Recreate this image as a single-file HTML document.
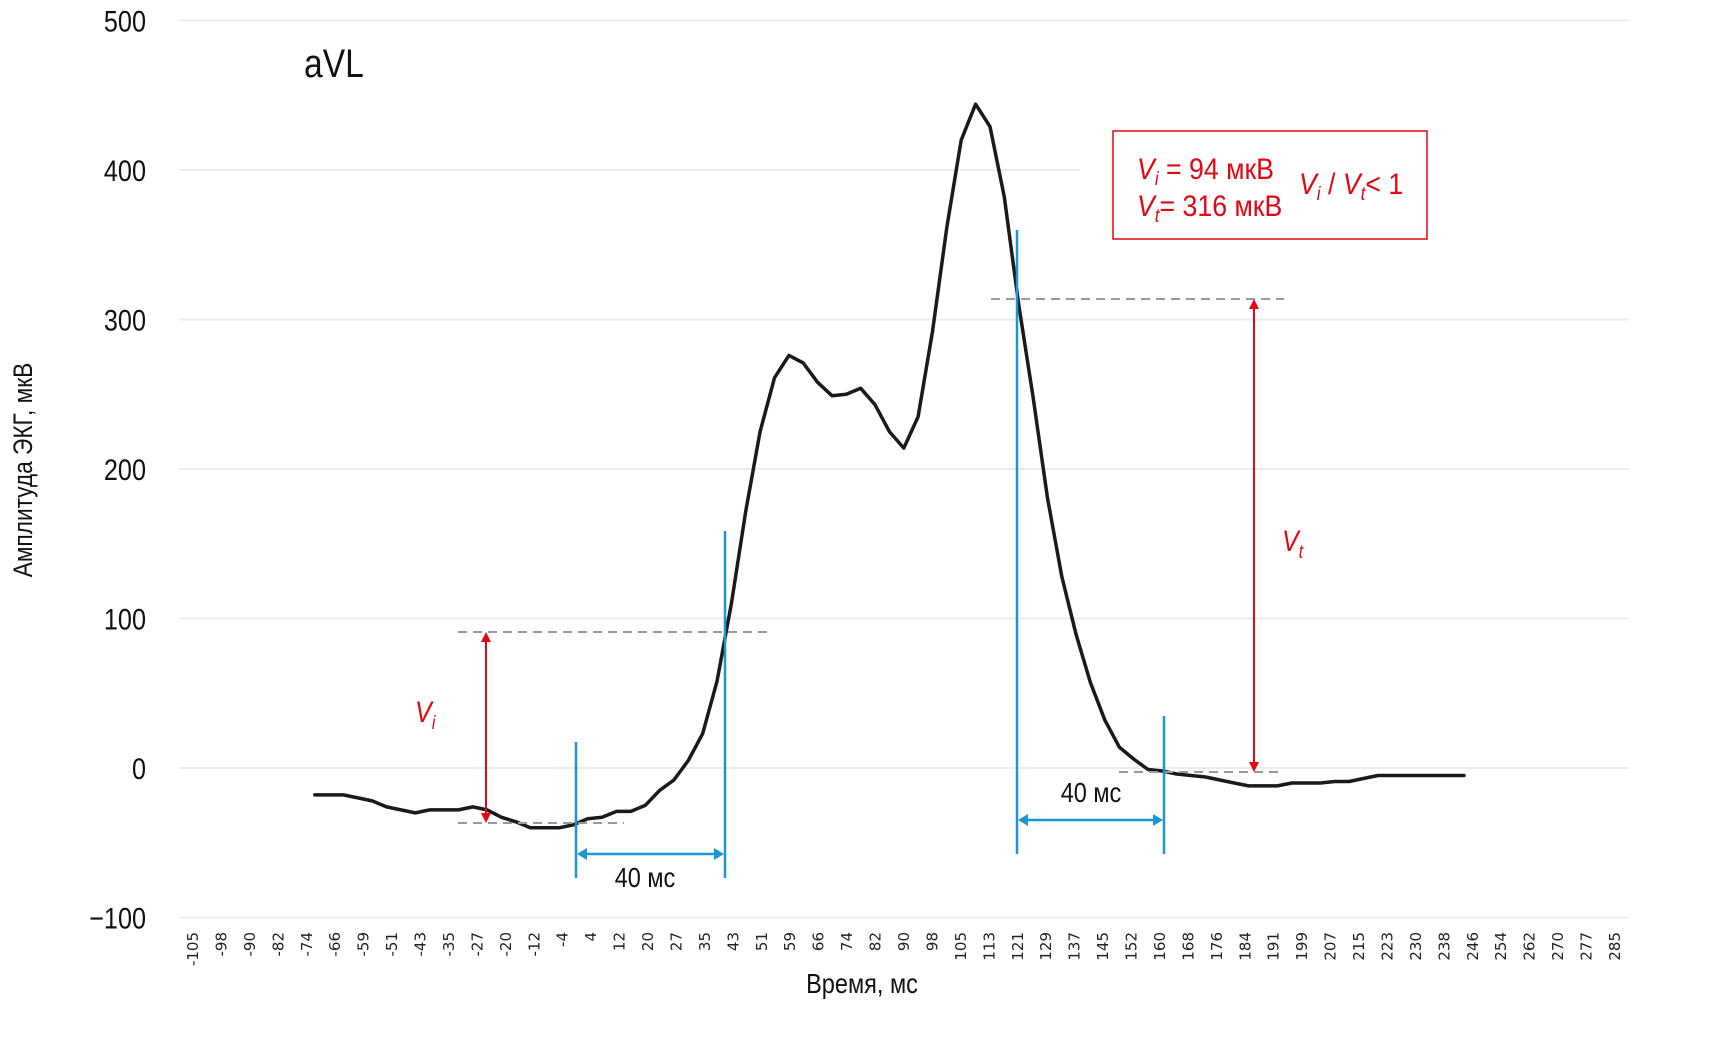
<!DOCTYPE html>
<html><head><meta charset="utf-8"><style>
html,body{margin:0;padding:0;background:#fff;}
svg{display:block;}
.cond{font-family:"Liberation Sans Narrow","Liberation Sans",sans-serif;}
</style></head><body>
<svg id="chart" width="1732" height="1041" viewBox="0 0 1732 1041" xmlns="http://www.w3.org/2000/svg">
<g id="grid"></g>
<g id="yticks"></g>
<g id="xticks"></g>
<text class="cond" x="304" y="77" font-size="40" fill="#111">aVL</text>
<text class="cond" font-size="27" fill="#111" text-anchor="middle" transform="translate(32,470) rotate(-90)">Амплитуда ЭКГ, мкВ</text>
<text class="cond" x="862" y="993" font-size="28" fill="#111" text-anchor="middle">Время, мс</text>
<g id="annot">
<line x1="458" y1="632" x2="771" y2="632" stroke="#999" stroke-width="2" stroke-dasharray="9,6"/>
<line x1="458" y1="823" x2="624" y2="823" stroke="#999" stroke-width="2" stroke-dasharray="9,6"/>
<line x1="991" y1="299" x2="1284" y2="299" stroke="#999" stroke-width="2" stroke-dasharray="9,6"/>
<line x1="1119" y1="772" x2="1279" y2="772" stroke="#999" stroke-width="2" stroke-dasharray="9,6"/>
<line x1="576" y1="742" x2="576" y2="878" stroke="#1a96d4" stroke-width="2.5"/>
<line x1="725" y1="531" x2="725" y2="878" stroke="#1a96d4" stroke-width="2.5"/>
<line x1="1017" y1="230" x2="1017" y2="854" stroke="#1a96d4" stroke-width="2.5"/>
<line x1="1164" y1="716" x2="1164" y2="854" stroke="#1a96d4" stroke-width="2.5"/>
<g stroke="#1a96d4" fill="#1a96d4" stroke-width="2.5">
<line x1="585" y1="854" x2="716" y2="854"/><path d="M577,854 l10,-6 v12z M724,854 l-10,-6 v12z" stroke="none"/></g>
<g stroke="#1a96d4" fill="#1a96d4" stroke-width="2.5">
<line x1="1026" y1="820" x2="1155" y2="820"/><path d="M1018,820 l10,-6 v12z M1163,820 l-10,-6 v12z" stroke="none"/></g>
<text class="cond" x="645" y="887" font-size="28" fill="#111" text-anchor="middle">40 мс</text>
<text class="cond" x="1091" y="802" font-size="28" fill="#111" text-anchor="middle">40 мс</text>
<g stroke="#e30613" fill="#e30613" stroke-width="2">
<line x1="486" y1="640" x2="486" y2="815"/><path d="M486,632 l-5,10 h10z M486,823 l-5,-10 h10z" stroke="none"/></g>
<g stroke="#e30613" fill="#e30613" stroke-width="2">
<line x1="1254" y1="307" x2="1254" y2="764"/><path d="M1254,299 l-5,10 h10z M1254,772 l-5,-10 h10z" stroke="none"/></g>
<text class="cond" x="415" y="722" font-size="30" fill="#e30613" font-style="italic">V<tspan font-size="19" dy="7">i</tspan></text>
<text class="cond" x="1282" y="551" font-size="30" fill="#e30613" font-style="italic">V<tspan font-size="19" dy="7">t</tspan></text>
<rect x="1113" y="131" width="314" height="108" fill="#fff" stroke="#e30613" stroke-width="1.5"/>
<text class="cond red" x="1137" y="179" font-size="30" fill="#e30613"><tspan font-style="italic">V</tspan><tspan font-style="italic" font-size="19" dy="6">i</tspan><tspan dy="-6"> = 94 мкВ</tspan></text>
<text class="cond red" x="1137" y="216" font-size="30" fill="#e30613"><tspan font-style="italic">V</tspan><tspan font-style="italic" font-size="19" dy="6">t</tspan><tspan dy="-6">= 316 мкВ</tspan></text>
<text class="cond red" x="1299" y="194" font-size="30" fill="#e30613"><tspan font-style="italic">V</tspan><tspan font-style="italic" font-size="19" dy="6">i</tspan><tspan dy="-6"> / </tspan><tspan font-style="italic">V</tspan><tspan font-style="italic" font-size="19" dy="6">t</tspan><tspan dy="-6">&lt; 1</tspan></text>
</g>
<g id="series"></g>
</svg>
<script>
const yTicks = [-100, 0, 100, 200, 300, 400, 500];
const xTickLabels = [-105,-98,-90,-82,-74,-66,-59,-51,-43,-35,-27,-20,-12,-4,4,12,20,27,35,43,51,59,66,74,82,90,98,105,113,121,129,137,145,152,160,168,176,184,191,199,207,215,223,230,238,246,254,262,270,277,285];
const sampleStart = -71.6;
const sampleStep = 3.94;
const ecgValues = [-18,-18,-18,-20,-22,-26,-28,-30,-28,-28,-28,-26,-28,-33,-36,-40,-40,-40,-38,-34,-33,-29,-29,-25,-15,-8,5,23,58,110,172,225,261,276,271,258,249,250,254,243,225,214,235,292,362,420,444,429,382,310,248,181,128,89,57,32,14,6,-1,-2,-4,-5,-6,-8,-10,-12,-12,-12,-10,-10,-10,-9,-9,-7,-5,-5,-5,-5,-5,-5,-5];

const NS = "http://www.w3.org/2000/svg";
const plotL = 179, plotR = 1629;
const tMin = -105, tMax = 285, xA = 193, xB = 1615;
function xScale(t){ return xA + (t - tMin) / (tMax - tMin) * (xB - xA); }
function yScale(v){ return 768 - v * 1.495; }
function mk(tag, attrs, parent){ const e = document.createElementNS(NS, tag); for (const k in attrs) e.setAttribute(k, attrs[k]); parent.appendChild(e); return e; }

const grid = document.getElementById('grid');
const yt = document.getElementById('yticks');
yTicks.forEach(v => {
  const l = mk('line', {x1: plotL, x2: v === 400 ? 1080 : plotR, y1: yScale(v), y2: yScale(v), stroke: '#ececec', 'stroke-width': 2}, grid);
  
  
  const t = mk('text', {x: 146, y: yScale(v) + 11, 'font-size': 30, 'text-anchor': 'end', fill: '#111', class: 'cond'}, yt);
  t.textContent = v < 0 ? '\u2212' + Math.abs(v) : String(v);
  
  
});

const xt = document.getElementById('xticks');
xTickLabels.forEach((lab, i) => {
  const cx = xA + i * (xB - xA) / (xTickLabels.length - 1);
  const t = mk('text', {'font-size': 15, 'text-anchor': 'end', fill: '#222', 'font-family': '"DejaVu Sans", sans-serif', transform: 'translate(' + (cx + 5) + ',932) rotate(-90)'}, xt);
  t.textContent = String(lab);
  
  
});

const ser = document.getElementById('series');
const pts = ecgValues.map((v, k) => xScale(sampleStart + k * sampleStep).toFixed(1) + ',' + yScale(v).toFixed(1)).join(' ');
const pl = mk('polyline', {points: pts, fill: 'none', stroke: '#1a1a1a', 'stroke-width': 3.5, 'stroke-linejoin': 'round', 'stroke-linecap': 'round'}, ser);


document.getElementById('chart').appendChild(document.getElementById('annot'));

document.querySelectorAll('text.cond').forEach(t => {
  const w = t.getComputedTextLength();
  const f = t.classList.contains('red') ? 0.89 : 0.84;
  t.setAttribute('textLength', (w * f).toFixed(1));
  t.setAttribute('lengthAdjust', 'spacingAndGlyphs');
});
</script>
</body></html>
